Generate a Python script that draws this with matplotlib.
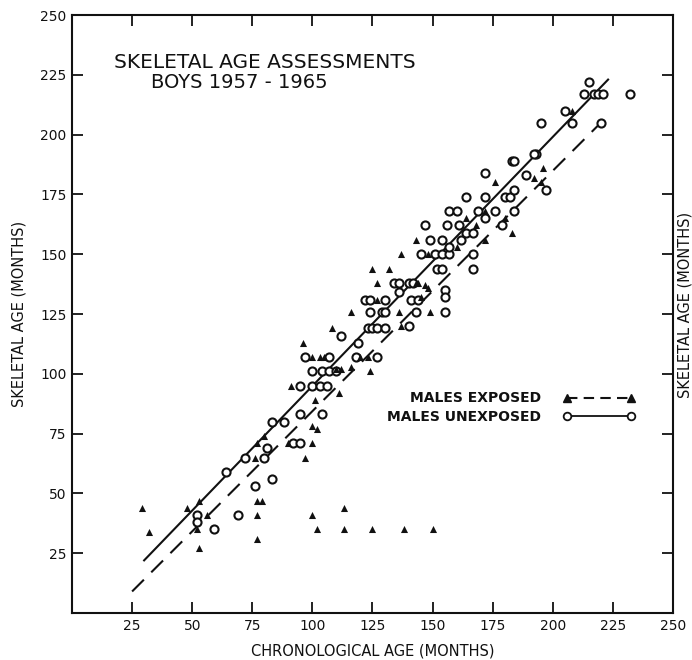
import matplotlib
matplotlib.use("Agg")
import matplotlib.pyplot as plt
from matplotlib.lines import Line2D

# ---------------- data ----------------
# Males unexposed (open circles): chronological age, skeletal age (months)
unexp_x = [52, 52, 59, 64, 69, 72, 76, 81, 80, 83, 83, 88, 95, 92, 95, 95, 100, 100, 103, 106,
           104, 97, 107, 104, 107, 110, 112, 119, 118, 127, 123, 125, 127, 130, 140, 124, 129, 130,
           143, 122, 124, 130, 141, 144, 134, 136, 140, 142, 136, 155, 155, 155, 152, 154, 167,
           145, 151, 154, 157, 167, 149, 154, 162, 157, 147, 156, 161, 164, 167, 179, 172, 157,
           160, 169, 176, 184, 164, 172, 180, 182, 172, 184, 197, 189, 183, 184, 193, 192, 195,
           208, 220, 205, 213, 217, 219, 221, 215, 232]
unexp_y = [41, 38, 35, 59, 41, 65, 53, 69, 65, 56, 80, 80, 83, 71, 71, 95, 101, 95, 95, 95,
           83, 107, 107, 101, 101, 101, 116, 113, 107, 107, 119, 119, 119, 119, 120, 126, 126, 126,
           126, 131, 131, 131, 131, 131, 138, 138, 138, 138, 134, 135, 132, 126, 144, 144, 144,
           150, 150, 150, 150, 150, 156, 156, 156, 153, 162, 162, 162, 159, 159, 162, 165, 168,
           168, 168, 168, 168, 174, 174, 174, 174, 184, 177, 177, 183, 189, 189, 192, 192, 205,
           205, 205, 210, 217, 217, 217, 217, 222, 217]

# Males exposed (filled triangles)
exp_x = [29, 32, 48, 53, 52, 53, 56, 77, 77, 77, 79, 77, 80, 76, 90, 100, 97, 96, 91, 101,
         100, 102, 100, 103, 105, 110, 112, 116, 111, 100, 102, 113, 113, 125, 138, 150, 125,
         132, 127, 144, 148, 116, 136, 149, 108, 137, 120, 123, 124, 143, 147, 145, 143, 148,
         137, 160, 172, 164, 180, 168, 183, 172, 176, 192, 195, 196, 208, 127]
exp_y = [44, 34, 44, 47, 35, 27, 41, 41, 31, 47, 47, 71, 74, 65, 71, 71, 65, 113, 95, 89,
         78, 77, 107, 107, 107, 102, 102, 103, 92, 41, 35, 44, 35, 35, 35, 35, 144,
         144, 138, 138, 136, 126, 126, 126, 119, 120, 107, 107, 101, 138, 137, 132, 156, 150,
         150, 153, 156, 165, 165, 162, 159, 168, 180, 182, 180, 186, 210, 131]

# Fitted lines (end points)
unexp_line_x = [30, 223]
unexp_line_y = [22, 223]
exp_line_x = [25, 223]
exp_line_y = [9, 208]

x_ticks = [25, 50, 75, 100, 125, 150, 175, 200, 225, 250]
y_ticks = [25, 50, 75, 100, 125, 150, 175, 200, 225, 250]

title_lines = ["SKELETAL AGE ASSESSMENTS", "BOYS 1957 - 1965"]
legend_labels = ["MALES EXPOSED", "MALES UNEXPOSED"]

# ---------------- figure ----------------
plt.rcParams['font.family'] = ['DejaVu Sans']
fig = plt.figure(figsize=(6.92, 6.60), dpi=100)
ax = fig.add_axes([72/692, 1-613/660, (673-72)/692, (613-15)/660])

ink = '#111111'
ax.plot(unexp_line_x, unexp_line_y, color=ink, lw=1.5, ls='-', zorder=2)
ax.plot(exp_line_x, exp_line_y, color=ink, lw=1.5, ls=(0, (8, 5)), zorder=2)

ax.scatter(unexp_x, unexp_y, s=34, facecolors='white', edgecolors=ink, linewidths=1.5,
           marker='o', zorder=3)
ax.scatter(exp_x, exp_y, s=26, color=ink, marker='^', zorder=4, linewidths=0)

ax.set_xlim(0, 250)
ax.set_ylim(0, 250)
ax.set_xticks(x_ticks)
ax.set_yticks(y_ticks)
ax.set_xticklabels([str(t) for t in x_ticks])
ax.set_yticklabels([str(t) for t in y_ticks])
ax.tick_params(direction='in', length=8, width=1.3, top=True, right=True,
               labelsize=10, colors=ink, pad=4)
for sp in ax.spines.values():
    sp.set_linewidth(1.5)
    sp.set_color(ink)

ax.set_xlabel("CHRONOLOGICAL AGE (MONTHS)", fontsize=10.5, color=ink, labelpad=8)
ax.set_ylabel("SKELETAL AGE (MONTHS)", fontsize=10.5, color=ink, labelpad=10)

ax.text(17.4, 230, title_lines[0], fontsize=14.5, color=ink, ha='left', va='center')
ax.text(32.8, 221.6, title_lines[1], fontsize=14, color=ink, ha='left', va='center')

# label of the facing page, visible at the right edge
fig.text(1.0, 1-305/660, "SKELETAL AGE (MONTHS)", rotation=90, fontsize=10.5,
         color=ink, ha='right', va='center')

handles = [
    Line2D([], [], color=ink, ls=(0, (5, 3)), lw=1.5, marker='^', markersize=5.5),
    Line2D([], [], color=ink, ls='-', lw=1.3, marker='o', markersize=5.5,
           markerfacecolor='white', markeredgewidth=1.3),
]
leg = ax.legend(handles, legend_labels, numpoints=2, markerfirst=False, frameon=False,
                loc='center right', bbox_to_anchor=(0.958, 0.343), handlelength=5.2,
                handletextpad=1.6, labelspacing=0.35,
                prop={'size': 10, 'weight': 'bold'})
for t in leg.get_texts():
    t.set_color(ink)

fig.savefig("out.png", dpi=100)
